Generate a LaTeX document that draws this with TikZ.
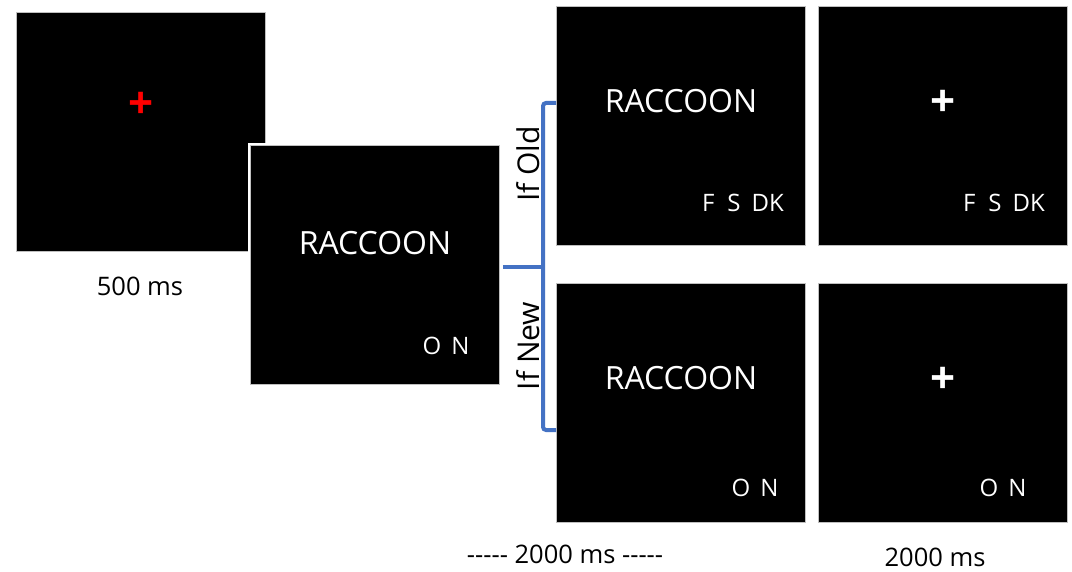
\documentclass[tikz,border=0pt]{standalone}
\usepackage{fontspec}
\setmainfont{Open Sans}
\newcommand\onedash{\mbox{-}}
\newcommand\fivedash{\onedash\onedash\onedash\onedash\onedash}
\begin{document}
\begin{tikzpicture}[x=1pt,y=-1pt,
  screen/.style={fill=black,draw=black!25,line width=0.8pt,inner sep=0pt,
    minimum width=249pt,minimum height=239pt},
  big/.style={text=white,font=\fontsize{32}{36}\selectfont,inner sep=0pt},
  keys/.style={text=white,font=\fontsize{24}{28}\selectfont,inner sep=0pt},
  lab/.style={text=black,font=\fontsize{25.5}{30}\selectfont,inner sep=0pt},
  side/.style={text=black,font=\fontsize{30}{34}\selectfont,inner sep=0pt,rotate=90},
  fix/.style={font=\fontsize{44}{44}\selectfont\bfseries,inner sep=0pt},
  bracket/.style={draw={rgb,255:red,68;green,114;blue,196},line width=4pt}]
\useasboundingbox (0,0) rectangle (1072,572);
\fill[white] (0,0) rectangle (1072,572);
% screens
\node[screen] (s1) at (140.5,131.5) {};
\node[fix,text={rgb,255:red,255;green,0;blue,0}] (p1) at (141,105) {+};
\node[lab] (t1) at (140,286) {500 ms};
\draw[white,line width=2pt] (249,144) rectangle (501,386);
\node[screen] (s2) at (375,265) {};
\node[big] (r2) at (375,243) {RACCOON};
\node[keys] (k2) at (446,346) {O\hspace{10pt}N};
\node[screen] (s3) at (681,125.5) {};
\node[big] (r3) at (681,101) {RACCOON};
\node[keys] (k3) at (743,203) {F\hspace{13pt}S\hspace{11pt}DK};
\node[screen] (s4) at (942.5,125.5) {};
\node[fix,text=white] (p4) at (943,103) {+};
\node[keys] (k4) at (1004,203) {F\hspace{13pt}S\hspace{11pt}DK};
\node[screen] (s5) at (681,402.5) {};
\node[big] (r5) at (681,378) {RACCOON};
\node[keys] (k5) at (755,488) {O\hspace{10pt}N};
\node[screen] (s6) at (942.5,402.5) {};
\node[fix,text=white] (p6) at (943,380) {+};
\node[keys] (k6) at (1003,488) {O\hspace{10pt}N};
% bracket
\coordinate (bj) at (543,267);
\coordinate (bt) at (543,103);
\coordinate (bb) at (543,430);
\draw[bracket] ([xshift=3pt]s2.east |- bj) -- (bj);
\draw[bracket,rounded corners=3pt] (s3.west |- bt) -- (bt) -- (bb) -- (s5.west |- bb);
\node[side] (old) at (528,164) {If Old};
\node[side] (new) at (528,346) {If New};
% timing labels
\node[lab] (t2) at (565,554) {\fivedash\ 2000 ms \fivedash};
\node[lab] (t3) at (935,557) {2000 ms};
\end{tikzpicture}
\end{document}
